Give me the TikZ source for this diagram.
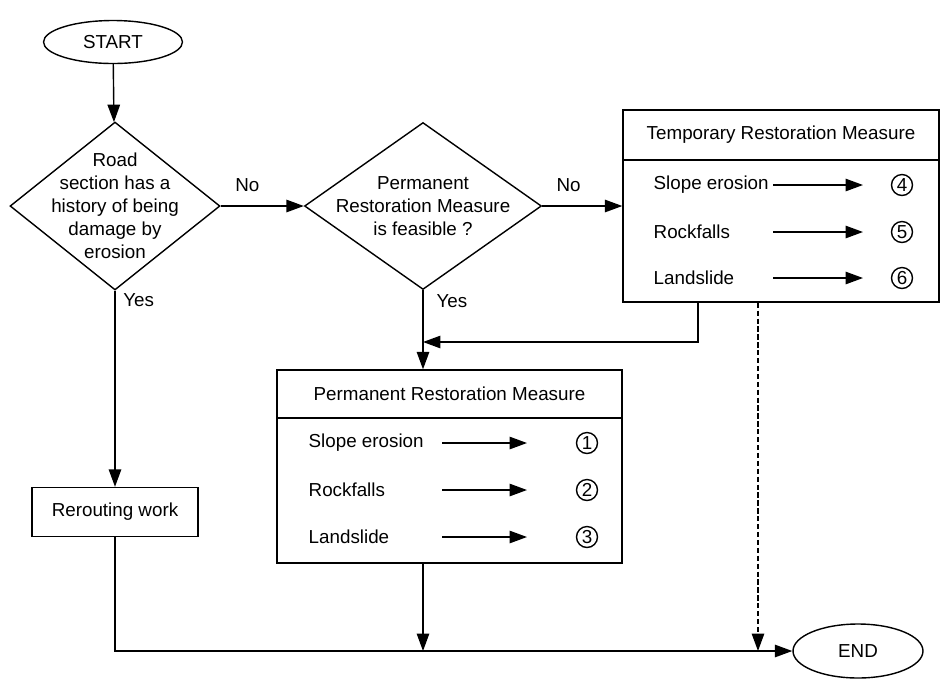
\documentclass[tikz,border=0pt]{standalone}
\usepackage{fontspec}
\setmainfont{Liberation Sans}
\usetikzlibrary{shapes.geometric,arrows.meta}

\tikzset{
  terminal/.style={draw, ellipse, inner sep=0pt},
  decision/.style={draw, diamond, inner sep=0pt},
  box/.style={draw, rectangle, inner sep=0pt},
  item/.style={anchor=west, inner sep=0pt},
  num/.style={draw, circle, inner sep=0.5pt, minimum size=0.42cm},
  flow/.style={-{Triangle[length=3.5mm,width=2.5mm]}},
}

\begin{document}
\begin{tikzpicture}[x=0.02cm, y=-0.02cm, line width=0.8pt, font=\fontsize{10.7}{13.1}\selectfont]
    \useasboundingbox (0,0) rectangle (941,681);

    % start, decisions, rerouting
    \node[terminal, minimum width=2.78cm, minimum height=0.86cm] (start) at (113,42) {START};
    \node[decision, minimum width=4.2cm, minimum height=3.36cm] (hist) at (115,206) {};
    \node[align=center] (histq) at (hist) {Road\\section has a\\history of being\\damage by\\erosion};
    \node[decision, minimum width=4.74cm, minimum height=3.34cm] (feas) at (423,206) {};
    \node[align=center] (feasq) at (feas) {Permanent\\Restoration Measure\\is feasible ?};
    \node[box, minimum width=3.32cm, minimum height=0.98cm] (reroute) at (115,512) {Rerouting work};
    \node[terminal, minimum width=2.6cm, minimum height=1.08cm] (finish) at (858,651) {END};

    % temporary measures
    \node[box, minimum width=6.32cm, minimum height=1.0cm] (temphead) at (781,135) {Temporary Restoration Measure};
    \node[box, minimum width=6.32cm, minimum height=2.84cm] (tempbody) at (781,231) {};
    \node[item] (ts1) at (653,185) {Slope erosion};
    \node[item] (ts2) at (653,232) {Rockfalls};
    \node[item] (ts3) at (653,278) {Landslide};
    \node[num] (c4) at (902,185) {4};
    \node[num] (c5) at (902,232) {5};
    \node[num] (c6) at (902,278) {6};
    \coordinate (ta) at (773,0);
    \coordinate (tb) at (863,0);
    \draw[flow] (ta |- c4) -- (tb |- c4);
    \draw[flow] (ta |- c5) -- (tb |- c5);
    \draw[flow] (ta |- c6) -- (tb |- c6);

    % permanent measures
    \node[box, minimum width=6.9cm, minimum height=0.96cm] (permhead) at (449.5,394) {Permanent Restoration Measure};
    \node[box, minimum width=6.9cm, minimum height=2.9cm] (permbody) at (449.5,490.5) {};
    \node[item] (ps1) at (308,443) {Slope erosion};
    \node[item] (ps2) at (308,490) {Rockfalls};
    \node[item] (ps3) at (308,537) {Landslide};
    \node[num] (c1) at (587,443) {1};
    \node[num] (c2) at (587,490) {2};
    \node[num] (c3) at (587,537) {3};
    \coordinate (pa) at (442,0);
    \coordinate (pb) at (527,0);
    \draw[flow] (pa |- c1) -- (pb |- c1);
    \draw[flow] (pa |- c2) -- (pb |- c2);
    \draw[flow] (pa |- c3) -- (pb |- c3);

    % connectors
    \coordinate (tout) at (698,342);
    \coordinate (tdash) at (758,0);
    \draw[flow] (start) -- (hist);
    \draw[flow] (hist.east) -- node[pos=0.32, above=4.5pt] (no1) {No} (feas.west);
    \draw[flow] (feas.east) -- node[pos=0.33, above=4.5pt] (no2) {No} (feas.east -| tempbody.west);
    \draw[flow] (hist.south) -- node[pos=0.05, right=1pt] (yes1) {Yes} (reroute.north);
    \draw[flow] (feas.south) -- node[pos=0.14, right=4pt] (yes2) {Yes} (feas.south |- permhead.north);
    \draw[flow] (tempbody.south -| tout) -- (tout) -- (feas.south |- tout);
    \draw[flow, dash pattern=on 3pt off 1.5pt] (tempbody.south -| tdash) -- (tdash |- finish);
    \draw[flow] (permbody.south -| feas) -- (feas |- finish);
    \draw[flow] (reroute.south) -- (reroute.south |- finish) -- (finish.west);
\end{tikzpicture}
\end{document}
